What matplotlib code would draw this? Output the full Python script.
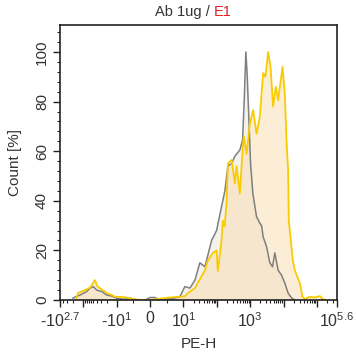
import matplotlib
matplotlib.use("Agg")
import matplotlib.pyplot as plt
import numpy as np

ctrl_x = [-205, -126, -80, -63, -50, -40, -28, -20, -14, -10, -8, -6, -4, -1.5,
          0, 1.4, 2.9, 4.4, 5.9, 7.4, 8.9, 11, 15.6, 22, 31, 44, 69.5, 98, 138,
          174, 214, 276, 347, 489, 589, 667, 740, 809, 929, 1023, 1197, 1545,
          1941, 2183, 2438, 3083, 3864, 4656, 5458, 6855, 8670, 10890, 13650,
          17260, 21680]
ctrl_y = [0.8, 2, 3.4, 4.8, 5.4, 4, 3.4, 2, 1.6, 0.7, 0.3, 0.7, 0, 0,
          1.0, 1.0, 0, 0.3, 0.5, 0.8, 1.3, 5.4, 4.8, 8, 15, 13.4, 24, 28, 37.6,
          44, 54, 55, 58, 60.5, 64.5, 82, 100, 91, 70, 55, 43, 33.6,
          31, 30, 25.5, 21.5, 15, 13.4, 19, 12, 10, 6.8, 2.8,
          0.8, 0]

e1_x = [-160, -145, -110, -89, -63, -45, -38, -32, -20, -14, -11.3, -8, -5, -3,
        0, 2.9, 4.4, 5.9, 7.4, 8.9, 11, 13.6, 22, 44, 54, 76, 98, 107, 138,
        151, 170, 195, 214, 276, 347, 389, 489, 601, 644, 776, 975, 1222,
        1545, 1941, 2438, 2838, 3443, 4055, 4853, 5848, 6855, 9290, 10890,
        12220, 13650, 14320, 18880, 21680, 30620, 36810, 43150, 60950, 86100,
        121300, 149300, 183700]
e1_y = [0.8, 2.8, 3.5, 4, 5, 8, 5.5, 4.8, 2.8, 2, 1.3, 1.2, 0.4, 0,
        0, 0.5, 0.8, 1.0, 1.2, 1.3, 1.5, 2.8, 4.8, 12, 16, 19, 20, 11.7, 24,
        32, 29.6, 39, 55, 56.5, 47, 54, 43, 62, 66, 59, 71, 76.6,
        67, 74, 91.5, 90, 100, 94, 78, 86, 80.6, 94, 83,
        64.5, 52, 32, 16, 12, 6.8, 1.3, 0.4, 1.3, 1.0,
        1.6, 0.4, 0]

XMIN, XMAX = -10 ** 2.7, 10 ** 5.6
tick_pos = [XMIN, -100, -10, 0, 10, 100, 1000, 1e4, 1e5, XMAX]
tick_lab = [r"-10$^{2.7}$", "", r"-10$^{1}$", "0", r"10$^{1}$", "",
            r"10$^{3}$", "", "", r"10$^{5.6}$"]

GRAY = "#7f7f7f"
YELLOW = "#f9cc00"

plt.rcParams["font.family"] = ["Liberation Sans", "DejaVu Sans"]
plt.rcParams["mathtext.fontset"] = "custom"
plt.rcParams["mathtext.rm"] = "Liberation Sans"
plt.rcParams["mathtext.it"] = "Liberation Sans"
plt.rcParams["mathtext.bf"] = "Liberation Sans"
plt.rcParams["axes.unicode_minus"] = False

fig = plt.figure(figsize=(3.56, 3.60), dpi=100)
ax = fig.add_axes([60 / 356, 1 - 300 / 360, 277 / 356, 275 / 360])
ax.set_xscale("symlog", linthresh=10, linscale=0.9)

ax.fill_between(ctrl_x, ctrl_y, color="#c8b49a", alpha=0.18, linewidth=0)
ax.fill_between(e1_x, e1_y, color="#f9d9a8", alpha=0.45, linewidth=0)
ax.plot(ctrl_x, ctrl_y, color=GRAY, linewidth=1.1)
ax.plot(e1_x, e1_y, color=YELLOW, linewidth=1.3)

ax.set_xlim(XMIN, XMAX)
ax.set_ylim(0, 110.9)

ax.set_xticks(tick_pos)
ax.set_xticklabels(tick_lab)
minor = []
for dec in [10, 100, 1000, 10000, 100000]:
    for k in range(2, 10):
        v = k * dec
        if v < XMAX:
            minor.append(v)
        if v < -XMIN:
            minor.append(-v)
minor += [-5, 5]
ax.set_xticks(minor, minor=True)

ax.set_yticks([0, 20, 40, 60, 80, 100])
ax.set_yticks(np.arange(0, 111, 4), minor=True)
for lab in ax.get_yticklabels():
    lab.set_rotation(90)
    lab.set_va("center")

ax.tick_params(axis="both", which="major", length=5, width=1, color="#222222",
               labelcolor="#333333")
ax.tick_params(axis="x", which="major", labelsize=11.5, pad=3)
ax.tick_params(axis="y", which="major", labelsize=11, pad=3)
ax.tick_params(axis="both", which="minor", length=2.5, width=0.8, color="#222222")

for sp in ax.spines.values():
    sp.set_linewidth(1.2)
    sp.set_color("#222222")

ax.set_xlabel("PE-H", fontsize=11, color="#333333", labelpad=5)
ax.set_ylabel("Count [%]", fontsize=11, color="#333333", labelpad=9)

fig.text(0.601, 1 - 12 / 360, "Ab 1ug / ", ha="right", va="center",
         fontsize=10.5, color="#333333")
fig.text(0.601, 1 - 12 / 360, "E1", ha="left", va="center",
         fontsize=10.5, color="#e0202a")

fig.savefig("out.png", dpi=100)
